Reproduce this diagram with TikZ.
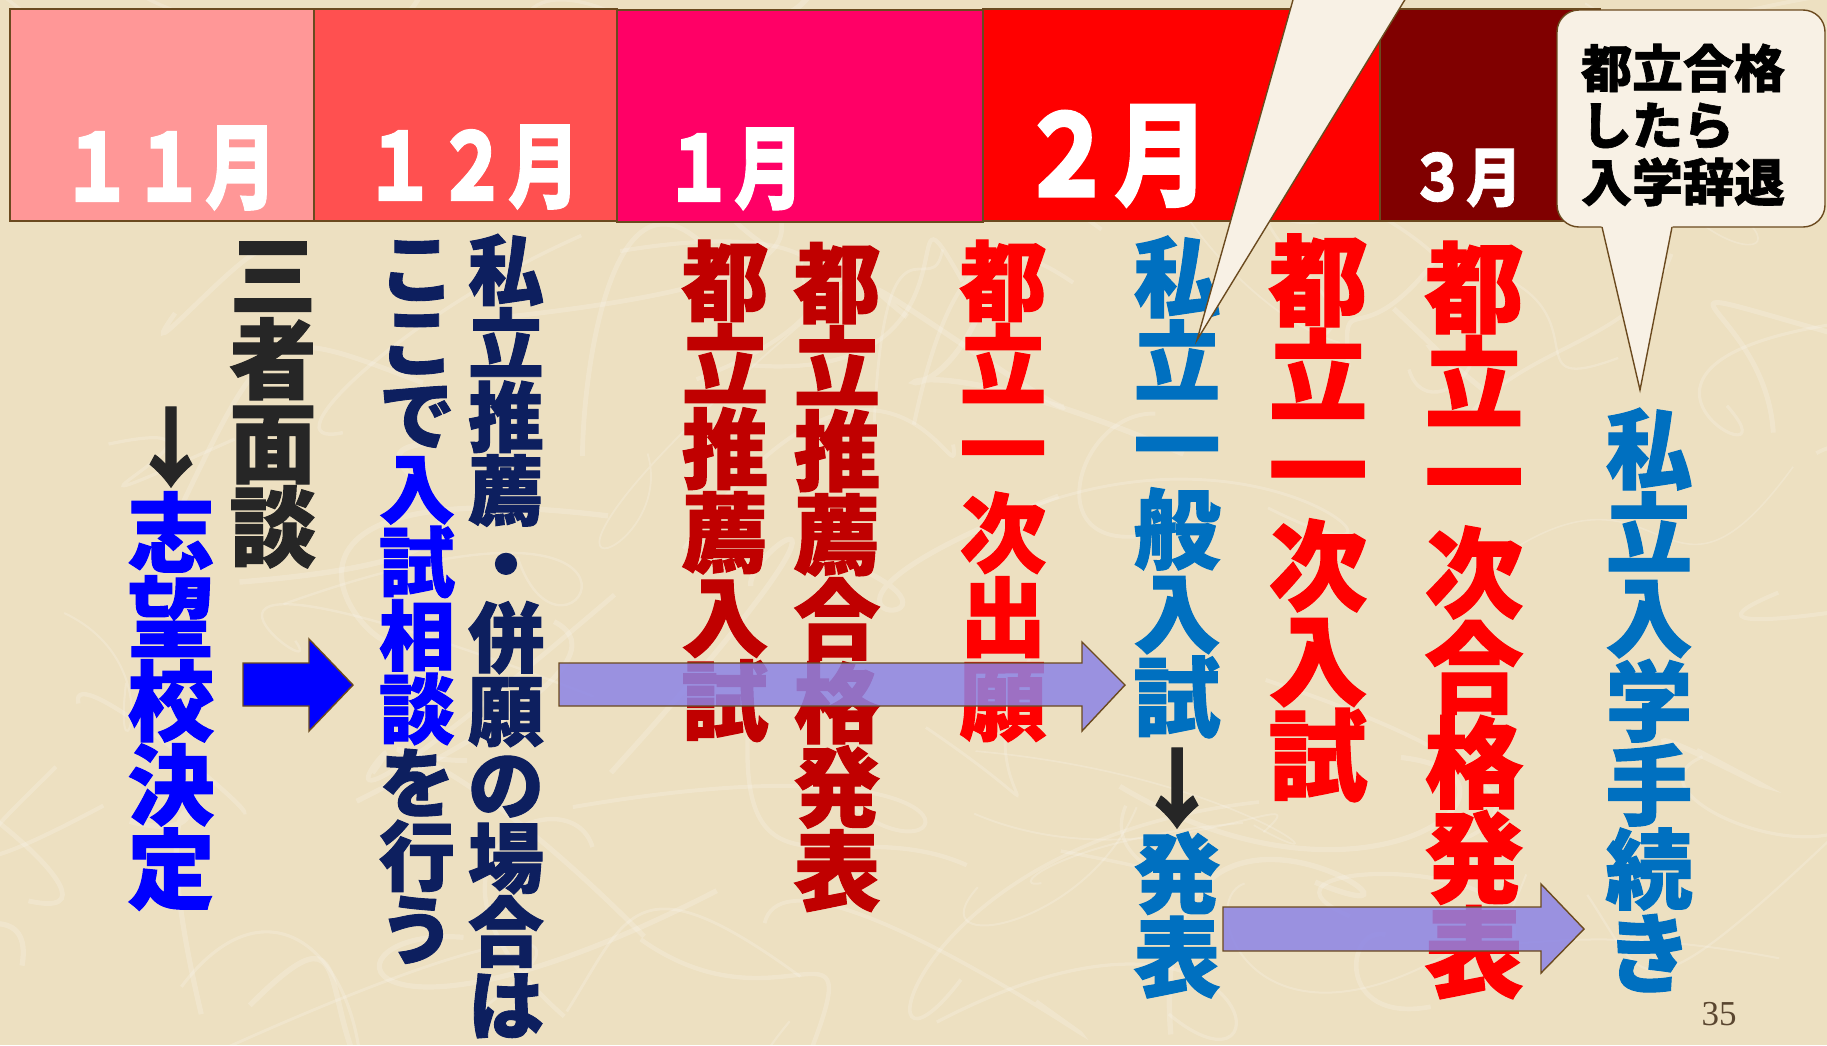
\documentclass[tikz,border=0pt]{standalone}
\usepackage{fontspec}
\usepackage{graphicx}
\IfFontExistsTF{Noto Sans CJK JP Black}{\newfontfamily\jp{Noto Sans CJK JP Black}[FakeBold=1.2]}{\newfontfamily\jp{Noto Sans CJK JP}[UprightFont={* Bold}, FakeBold=1.8]}
\newfontfamily\pgnum{Liberation Serif}
\definecolor{bg}{HTML}{EDE0C1}
\definecolor{frame}{HTML}{6B4A1F}
\definecolor{cNov}{HTML}{FF9797}
\definecolor{cDec}{HTML}{FF5050}
\definecolor{cJan}{HTML}{FF0066}
\definecolor{cFeb}{HTML}{FF0000}
\definecolor{cMar}{HTML}{800000}
\definecolor{cream}{HTML}{F8F1E5}
\definecolor{navyJ}{HTML}{0D1F5F}
\definecolor{blueJ}{HTML}{0000FF}
\definecolor{darkJ}{HTML}{262626}
\definecolor{dredJ}{HTML}{C00000}
\definecolor{redJ}{HTML}{FF0000}
\definecolor{steelJ}{HTML}{0070C0}
\definecolor{purpJ}{HTML}{8C84E6}
\definecolor{pgcol}{HTML}{5A4630}
\tikzset{
  monthbox/.style={draw=frame, line width=1.6pt},
  month/.style={text=white, inner sep=0pt},
  vt/.style={align=center, inner sep=0pt, font=\jp\fontsize{87}{84}\selectfont},
  vts/.style={align=center, inner sep=0pt, font=\jp\fontsize{76}{73.5}\selectfont},
  vtl/.style={align=center, inner sep=0pt, font=\jp\fontsize{99}{95}\selectfont},
  bluearrow/.style={fill=blueJ, draw=frame, line width=1.4pt},
  purparrow/.style={fill=purpJ, fill opacity=0.85, draw=frame, line width=1.4pt},
  callout/.style={fill=cream, draw=frame, line width=1.4pt},
}
\begin{document}
\begin{tikzpicture}[x=1pt,y=-1pt]
\useasboundingbox (0,0) rectangle (1827,1045);
\clip (0,0) rectangle (1827,1045);
% background
\fill[bg] (0,0) rectangle (1827,1045);
\pgfmathsetseed{12}
\foreach \i in {1,...,90}{
  \pgfmathsetmacro\xa{rnd*1827}
  \pgfmathsetmacro\ya{rnd*1045}
  \pgfmathsetmacro\xb{\xa+(rnd-0.5)*400}
  \pgfmathsetmacro\yb{\ya+(rnd-0.5)*300}
  \pgfmathsetmacro\xc{\xa+(rnd-0.5)*500}
  \pgfmathsetmacro\yc{\ya+(rnd-0.5)*400}
  \pgfmathsetmacro\xd{\xa+(rnd-0.5)*600}
  \pgfmathsetmacro\yd{\ya+(rnd-0.5)*400}
  \pgfmathsetmacro\lw{1.5+rnd*4}
  \draw[white, opacity=0.18, line width=\lw pt] (\xa,\ya) .. controls (\xb,\yb) and (\xc,\yc) .. (\xd,\yd);
}
% month bar
\draw[monthbox, fill=cNov] (10,9) rectangle (314,221);
\draw[monthbox, fill=cDec] (314,9) rectangle (617,221);
\draw[monthbox, fill=cJan] (617,10) rectangle (983,222);
\draw[monthbox, fill=cFeb] (983,9) rectangle (1380,221);
\draw[monthbox, fill=cMar] (1380,9) rectangle (1600,221);
\node[month, font=\jp\fontsize{72}{72}\selectfont] (m11) at (169,168) {\scalebox{1}[1.3]{１１月}};
\node[month, font=\jp\fontsize{72}{72}\selectfont] (m12) at (472,167) {\scalebox{1}[1.3]{１２月}};
\node[month, font=\jp\fontsize{70}{70}\selectfont] (m1) at (734,169) {\scalebox{1}[1.3]{１月}};
\node[month, font=\jp\fontsize{95}{95}\selectfont] (m2) at (1114,156) {\scalebox{1}[1.2]{２月}};
\node[month, font=\jp\fontsize{56}{56}\selectfont] (m3) at (1466,178) {\scalebox{1}[1.15]{３月}};
% right callout
\node[callout, rounded corners=22pt, minimum width=268pt, minimum height=217pt, inner sep=0pt] (bubble) at (1691,118.5) {};
\fill[cream] (1601,224) -- (1640,390) -- (1673,224) -- cycle;
\coordinate (tipB) at (1640,390);
\draw[frame, line width=1.4pt] (1602,227) -- (tipB) -- (1672,227);
\node[align=left, inner sep=0pt, font=\jp\fontsize{51}{57}\selectfont, text=black] (bubbletext) at (1683,125) {都立合格\\したら\\入学辞退};
% text columns
\node[vt, text=darkJ] (sansha) at (273,405) {三\\者\\面\\談};
\node[vt, text=darkJ] (arr1) at (171,447) {↓};
\node[vt, text=blueJ] (shibou) at (171,701) {志\\望\\校\\決\\定};
\node[vts, text=navyJ] (koko) at (417,602) {こ\\こ\\で\\\textcolor{blueJ}{入}\\\textcolor{blueJ}{試}\\\textcolor{blueJ}{相}\\\textcolor{blueJ}{談}\\を\\行\\う};
\node[vts, text=navyJ] (shiritsusui) at (506,636) {私\\立\\推\\薦\\・\\併\\願\\の\\場\\合\\は};
\node[vt, text=dredJ] (tosui) at (725,491) {都\\立\\推\\薦\\入\\試};
\node[vt, text=dredJ] (tosuigo) at (837,577) {都\\立\\推\\薦\\合\\格\\発\\表};
\node[vt, text=redJ] (toichishu) at (1003,491) {都\\立\\一\\次\\出\\願};
\node[vt, text=steelJ] (shiippan) at (1177,487) {私\\立\\一\\般\\入\\試};
\node[vt, text=darkJ] (arr2) at (1177,788) {↓};
\node[vt, text=steelJ] (happyo) at (1177,915) {発\\表};
\node[vtl, text=redJ] (toichinyu) at (1318,518) {都\\立\\一\\次\\入\\試};
\node[vtl, text=redJ] (toichigo) at (1474,620) {都\\立\\一\\次\\合\\格\\発\\表};
\node[vt, text=steelJ] (shinyu) at (1649,700) {私\\立\\入\\学\\手\\続\\き};
% left callout tail (bubble off the top edge)
\coordinate (tipA) at (1197,340);
\draw[callout] (tipA) -- (1300,-25) -- (1420,-25) -- cycle;
% blue block arrow
\draw[bluearrow] (243,663) -- (309,663) -- (309,639) -- (353,685) -- (309,731) -- (309,706) -- (243,706) -- cycle;
% purple block arrows
\draw[purparrow] (559,663) -- (1082,663) -- (1082,642) -- (1125,685) -- (1082,731) -- (1082,706) -- (559,706) -- cycle;
\draw[purparrow] (1223,907) -- (1541,907) -- (1541,884) -- (1584,929) -- (1541,973) -- (1541,951) -- (1223,951) -- cycle;
% page number
\node[text=pgcol, font=\pgnum\fontsize{35}{35}\selectfont, inner sep=0pt] (pgno) at (1719,1014) {35};
\end{tikzpicture}
\end{document}
